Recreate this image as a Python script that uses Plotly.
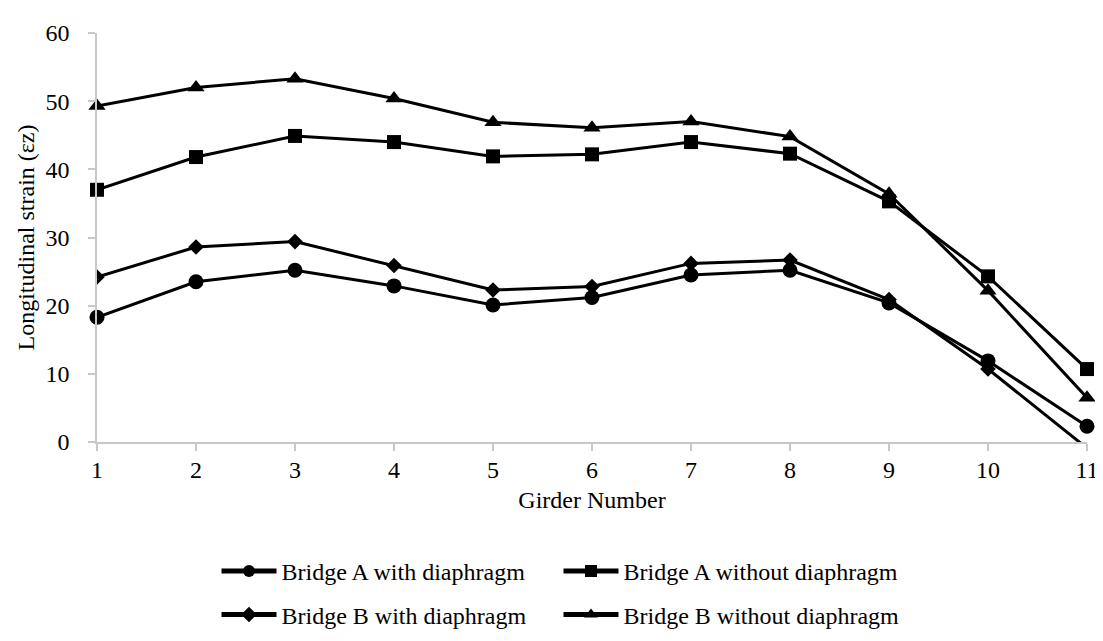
import plotly.graph_objects as go

girders = [1, 2, 3, 4, 5, 6, 7, 8, 9, 10, 11]
a_with = [18.3, 23.5, 25.2, 22.9, 20.1, 21.2, 24.5, 25.2, 20.4, 11.9, 2.3]
a_without = [37.0, 41.8, 44.9, 44.0, 41.9, 42.2, 44.0, 42.3, 35.3, 24.3, 10.7]
b_with = [24.2, 28.6, 29.4, 25.9, 22.3, 22.8, 26.2, 26.7, 20.9, 10.7, -0.9]
b_without = [49.3, 52.0, 53.3, 50.4, 46.9, 46.1, 47.0, 44.8, 36.4, 22.2, 6.5]

series = [
    ("Bridge A with diaphragm", a_with, "circle", 15, "legend", False),
    ("Bridge A without diaphragm", a_without, "square", 14, "legend", False),
    ("Bridge B with diaphragm", b_with, "diamond", 12, "legend2", True),
    ("Bridge B without diaphragm", b_without, "triangle-up", 15, "legend2", False),
]

FONT = "Liberation Serif"
FS = 24
fig = go.Figure()
for name, vals, sym, sz, lg, clip in series:
    fig.add_trace(go.Scatter(
        x=girders, y=vals, name=name, mode="lines+markers",
        line=dict(color="black", width=3),
        marker=dict(symbol=sym, size=sz, color="black"),
        legend=lg, cliponaxis=clip,
    ))

axis_common = dict(
    showline=True, linecolor="#c8c8c8", linewidth=1.5,
    ticks="outside", tickcolor="#c8c8c8", ticklen=7, tickwidth=1.5,
    showgrid=False, zeroline=False,
    tickfont=dict(family=FONT, size=FS, color="black"),
)

legend_common = dict(
    orientation="h", x=0.1207, xanchor="left", yanchor="middle",
    itemwidth=55, entrywidth=272, entrywidthmode="pixels", bgcolor="rgba(0,0,0,0)",
    font=dict(family=FONT, size=FS, color="black"), itemsizing="constant",
)

fig.update_layout(
    width=1103, height=641,
    margin=dict(l=89, r=20, t=15, b=193),
    paper_bgcolor="white", plot_bgcolor="white",
    font=dict(family=FONT, size=FS, color="black"),
    xaxis=dict(range=[1, 11], tickvals=girders, ticklabelstandoff=-2, **axis_common,
               title=dict(text="Girder Number", font=dict(family=FONT, size=FS), standoff=10)),
    yaxis=dict(range=[0, 60], dtick=10, ticklabelstandoff=14, **axis_common,
               title=dict(text="Longitudinal strain (εz)", font=dict(family=FONT, size=FS), standoff=4)),
    legend=dict(y=-0.3164, **legend_common),
    legend2=dict(y=-0.4226, **legend_common),
    showlegend=True,
)

fig.write_html("out.html")
